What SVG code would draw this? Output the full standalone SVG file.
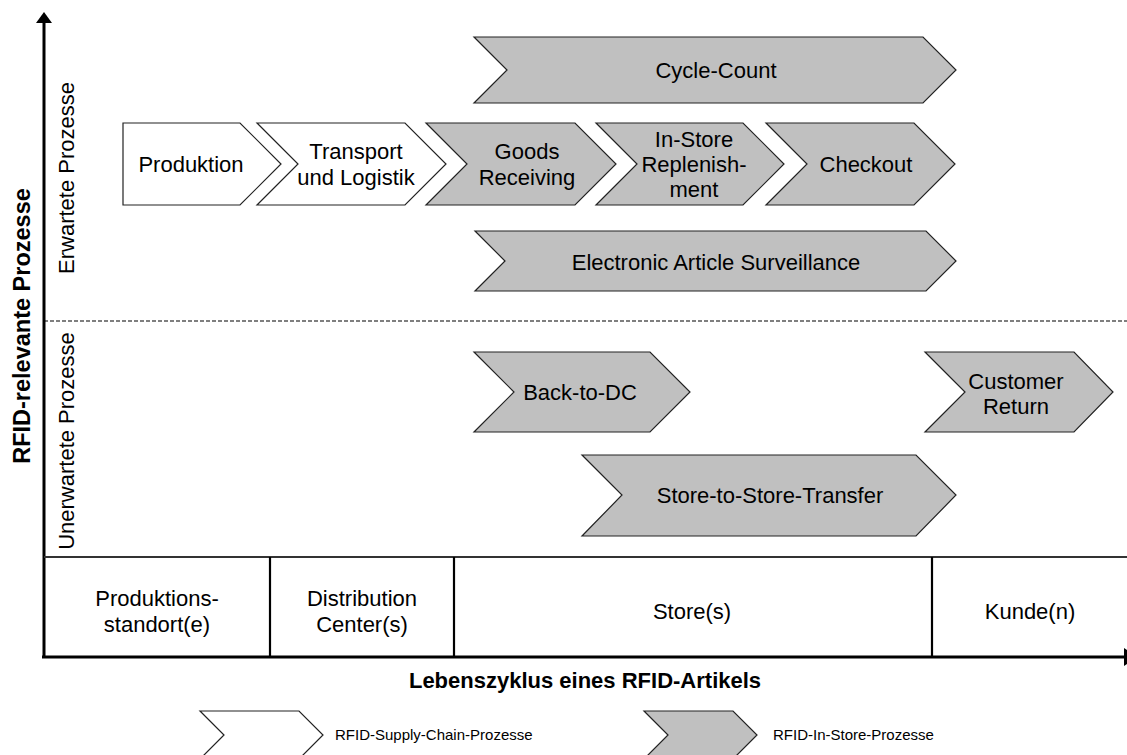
<svg xmlns="http://www.w3.org/2000/svg" width="1127" height="755" viewBox="0 0 1127 755">
  <style>
    .sc { fill: #ffffff; stroke: #222222; stroke-width: 1.2; }
    .is { fill: #c0c0c0; stroke: #222222; stroke-width: 1.2; }
    .t { font-family: "Liberation Sans", Arial, sans-serif; font-size: 22px; fill: #000000; text-anchor: middle; }
    .tb { font-family: "Liberation Sans", Arial, sans-serif; font-size: 22px; font-weight: bold; fill: #000000; text-anchor: middle; }
    .tl { font-family: "Liberation Sans", Arial, sans-serif; font-size: 15px; fill: #000000; }
    .axis { stroke: #000000; stroke-width: 3; fill: none; }
    .div { stroke: #000000; stroke-width: 2.2; fill: none; }
  </style>

  <rect width="1127" height="755" fill="#ffffff"/>

  <!-- axes, separators and lifecycle table -->
  <g id="frame">
    <line class="axis" x1="44" y1="20" x2="44" y2="658"/>
    <polygon points="44,12 36,23 52,23" fill="#000000"/>
    <line class="axis" x1="42" y1="657" x2="1124" y2="657"/>
    <polygon points="1124,648 1137,657 1124,666" fill="#000000"/>
    <line x1="44" y1="321" x2="1127" y2="321" stroke="#000000" stroke-width="1.2" stroke-dasharray="4,2"/>
    <line x1="44" y1="557" x2="1127" y2="557" stroke="#333333" stroke-width="1.8"/>
    <line class="div" x1="270" y1="557" x2="270" y2="657"/>
    <line class="div" x1="454" y1="557" x2="454" y2="657"/>
    <line class="div" x1="932" y1="557" x2="932" y2="657"/>
  </g>

  <!-- axis titles -->
  <g id="axis-labels">
    <text class="tb" style="font-size:23.5px" transform="translate(30,326) rotate(-90)">RFID-relevante Prozesse</text>
    <text class="t" transform="translate(74,178) rotate(-90)">Erwartete Prozesse</text>
    <text class="t" transform="translate(74,441) rotate(-90)">Unerwartete Prozesse</text>
    <text class="tb" x="585" y="688">Lebenszyklus eines RFID-Artikels</text>
  </g>

  <!-- lifecycle stages -->
  <g id="stage-produktion">
    <text class="t" x="157" y="606">Produktions-</text>
    <text class="t" x="157" y="632">standort(e)</text>
  </g>
  <g id="stage-dc">
    <text class="t" x="362" y="606">Distribution</text>
    <text class="t" x="362" y="632">Center(s)</text>
  </g>
  <g id="stage-store">
    <text class="t" x="692" y="619">Store(s)</text>
  </g>
  <g id="stage-kunde">
    <text class="t" x="1030" y="619">Kunde(n)</text>
  </g>

  <!-- process chevrons -->
  <g id="cycle-count">
    <path class="is" d="M474,37 L923,37 L956,70 L923,103 L474,103 L507,70 Z"/>
    <text class="t" x="716" y="78">Cycle-Count</text>
  </g>
  <g id="produktion">
    <path class="sc" d="M123,123 L240,123 L281,164 L240,205 L123,205 Z"/>
    <text class="t" x="191" y="172">Produktion</text>
  </g>
  <g id="transport">
    <path class="sc" d="M257,123 L405,123 L446,164 L405,205 L257,205 L298,164 Z"/>
    <text class="t" x="356" y="159">Transport</text>
    <text class="t" x="356" y="185">und Logistik</text>
  </g>
  <g id="goods-receiving">
    <path class="is" d="M426,123 L575,123 L616,164 L575,205 L426,205 L467,164 Z"/>
    <text class="t" x="527" y="159">Goods</text>
    <text class="t" x="527" y="185">Receiving</text>
  </g>
  <g id="in-store-replenishment">
    <path class="is" d="M596,123 L743,123 L784,164 L743,205 L596,205 L637,164 Z"/>
    <text class="t" x="694" y="147">In-Store</text>
    <text class="t" x="694" y="172">Replenish-</text>
    <text class="t" x="694" y="197">ment</text>
  </g>
  <g id="checkout">
    <path class="is" d="M766,123 L914,123 L955,164 L914,205 L766,205 L807,164 Z"/>
    <text class="t" x="866" y="172">Checkout</text>
  </g>
  <g id="eas">
    <path class="is" d="M475,231 L926,231 L956,261 L926,291 L475,291 L505,261 Z"/>
    <text class="t" x="716" y="270">Electronic Article Surveillance</text>
  </g>
  <g id="back-to-dc">
    <path class="is" d="M474,352 L650,352 L690,392 L650,432 L474,432 L514,392 Z"/>
    <text class="t" x="580" y="400">Back-to-DC</text>
  </g>
  <g id="customer-return">
    <path class="is" d="M925,352 L1074,352 L1113,392 L1074,432 L925,432 L965,392 Z"/>
    <text class="t" x="1016" y="389">Customer</text>
    <text class="t" x="1016" y="414">Return</text>
  </g>
  <g id="store-to-store">
    <path class="is" d="M582,455 L916,455 L956,495 L916,536 L582,536 L622,495 Z"/>
    <text class="t" x="770" y="503">Store-to-Store-Transfer</text>
  </g>

  <!-- legend -->
  <g id="legend-supply-chain">
    <path class="sc" d="M200,711 L299,711 L323,735 L299,759 L200,759 L224,735 Z"/>
    <text class="tl" x="335" y="740">RFID-Supply-Chain-Prozesse</text>
  </g>
  <g id="legend-in-store">
    <path class="is" d="M644,711 L733,711 L757,735 L733,759 L644,759 L668,735 Z"/>
    <text class="tl" x="773" y="740">RFID-In-Store-Prozesse</text>
  </g>
</svg>
